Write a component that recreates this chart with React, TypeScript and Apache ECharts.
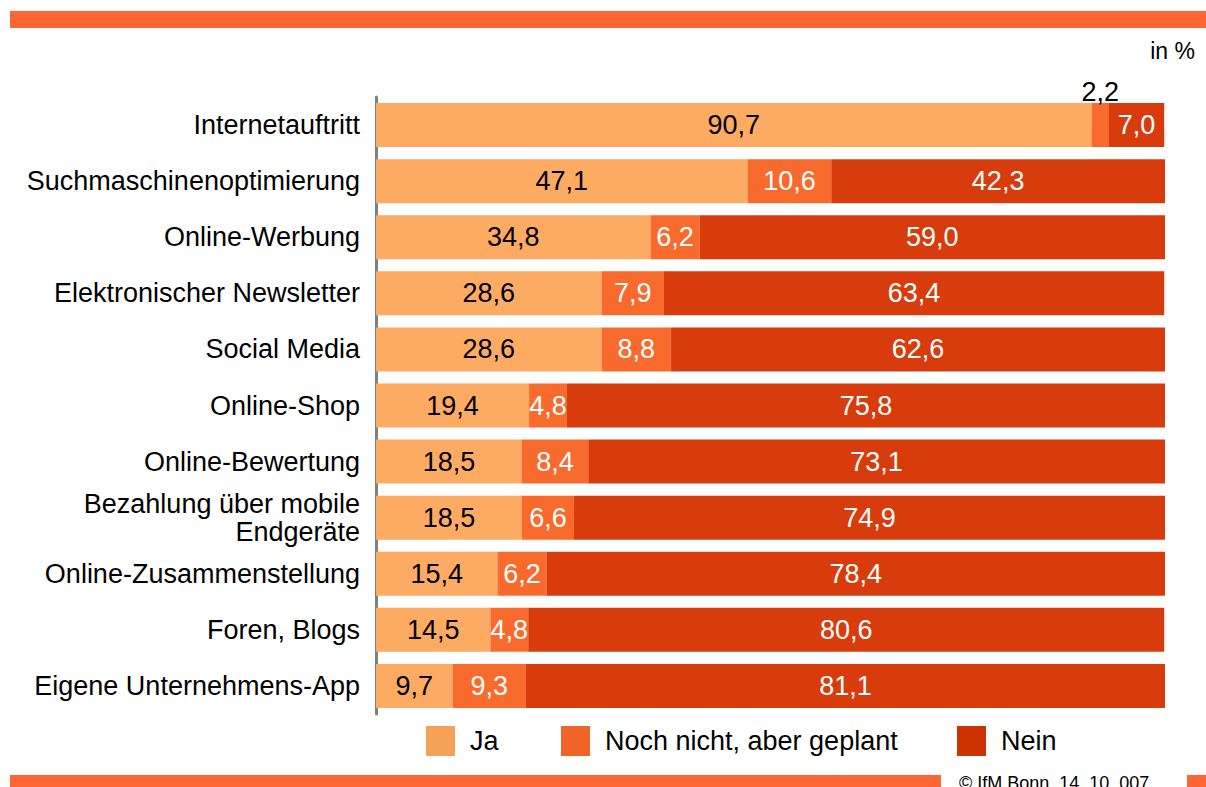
import React, { useEffect, useRef } from "react";
import * as echarts from "echarts";

const categories = [
  "Internetauftritt",
  "Suchmaschinenoptimierung",
  "Online-Werbung",
  "Elektronischer Newsletter",
  "Social Media",
  "Online-Shop",
  "Online-Bewertung",
  "Bezahlung über mobile\nEndgeräte",
  "Online-Zusammenstellung",
  "Foren, Blogs",
  "Eigene Unternehmens-App",
];
const ja = [90.7, 47.1, 34.8, 28.6, 28.6, 19.4, 18.5, 18.5, 15.4, 14.5, 9.7];
const geplant = [2.2, 10.6, 6.2, 7.9, 8.8, 4.8, 8.4, 6.6, 6.2, 4.8, 9.3];
const nein = [7.0, 42.3, 59.0, 63.4, 62.6, 75.8, 73.1, 74.9, 78.4, 80.6, 81.1];
const seriesNames = ["Ja", "Noch nicht, aber geplant", "Nein"];
const barColors = ["#FDAA63", "#F86B2D", "#D93C0C"];
const legendColors = ["#F4A25A", "#EF6528", "#CC3300"];
const legendLefts = [426, 561, 957];

const FONT = "Arial, 'Liberation Sans', sans-serif";

export default function App() {
  const ref = useRef<HTMLDivElement>(null);
  useEffect(() => {
    document.body.style.margin = "0";
    const chart = echarts.init(ref.current!, null, { renderer: "svg" });
    const fmt = (p: any) => Number(p.value).toFixed(1).replace(".", ",");
    const labelColors = ["#000", "#fff", "#fff"];
    const datasets = [ja, geplant, nein];
    const series = datasets.map((d, i) => ({
      name: seriesNames[i],
      type: "bar",
      stack: "total",
      barWidth: 44,
      itemStyle: { color: barColors[i] },
      label: {
        show: true,
        position: "inside",
        color: labelColors[i],
        fontSize: 27,
        fontFamily: FONT,
        formatter: fmt,
      },
      data: d.map((v, j) =>
        i === 1 && j === 0
          ? { value: v, label: { position: "top", color: "#000", distance: -2 } }
          : v
      ),
    }));
    chart.setOption({
      animation: false,
      textStyle: { fontFamily: FONT },
      grid: { left: 376, right: 41, top: 97, bottom: 73, containLabel: false },
      xAxis: { type: "value", min: 0, max: 100, show: false },
      yAxis: {
        type: "category",
        inverse: true,
        data: categories,
        axisLine: { show: true, lineStyle: { color: "#808080", width: 3 } },
        axisTick: { show: false },
        axisLabel: {
          color: "#000",
          fontSize: 27,
          fontFamily: FONT,
          margin: 16,
          lineHeight: 28,
          align: "right",
        },
      },
      legend: seriesNames.map((n, i) => ({
        data: [{ name: n, itemStyle: { color: legendColors[i] } }],
        left: legendLefts[i],
        top: 726,
        icon: "rect",
        itemWidth: 29,
        itemHeight: 30,
        selectedMode: false,
        padding: 0,
        textStyle: { color: "#000", fontSize: 27, fontFamily: FONT, padding: [0, 0, 0, 10] },
      })),
      graphic: [
        { type: "rect", shape: { x: 10, y: 11, width: 1196, height: 17 }, style: { fill: "#FF6633" } },
        { type: "rect", shape: { x: 10, y: 775, width: 931, height: 12 }, style: { fill: "#FF6633" } },
        { type: "rect", shape: { x: 1187, y: 775, width: 19, height: 12 }, style: { fill: "#FF6633" } },
        {
          type: "text",
          x: 1195,
          y: 51,
          style: { text: "in %", fill: "#000", fontSize: 23, fontFamily: FONT, align: "right", verticalAlign: "middle" },
        },
        {
          type: "text",
          x: 959,
          y: 774,
          style: { text: "© IfM Bonn, 14. 10. 007", fill: "#000", fontSize: 18, fontFamily: FONT, align: "left", verticalAlign: "top" },
        },
      ],
      series,
    });
    return () => chart.dispose();
  }, []);
  return <div ref={ref} style={{ width: 1206, height: 787, position: "absolute", left: 0, top: 0 }} />;
}
